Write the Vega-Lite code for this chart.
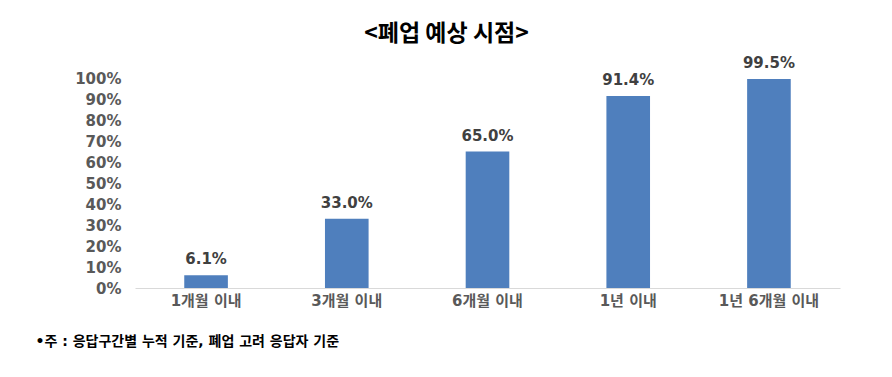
{
  "$schema": "https://vega.github.io/schema/vega-lite/v6.json",
  "width": 705,
  "height": 210,
  "autosize": "none",
  "padding": {"left": 135, "top": 78, "right": 52, "bottom": 89},
  "background": "white",
  "config": {"view": {"stroke": null}, "font": "Noto Sans CJK KR"},
  "title": {
    "text": "<폐업 예상 시점>",
    "anchor": "middle",
    "frame": "group",
    "dx": -41,
    "offset": 10,
    "fontSize": 23,
    "fontWeight": "bold",
    "color": "#000000",
    "font": "Noto Sans CJK KR"
  },
  "data": {
    "values": [
      {"period": "1개월 이내", "value": 0.061},
      {"period": "3개월 이내", "value": 0.33},
      {"period": "6개월 이내", "value": 0.65},
      {"period": "1년 이내", "value": 0.914},
      {"period": "1년 6개월 이내", "value": 0.995}
    ]
  },
  "encoding": {
    "x": {
      "field": "period",
      "type": "nominal",
      "sort": null,
      "scale": {"paddingInner": 0.69, "paddingOuter": 0.35},
      "axis": {
        "title": "•주 : 응답구간별 누적 기준, 폐업 고려 응답자 기준",
        "titleX": -100,
        "titleY": 53,
        "titleAlign": "left",
        "titleBaseline": "middle",
        "titleFontSize": 14,
        "titleFontWeight": "bold",
        "titleColor": "#000000",
        "titleFont": "DejaVu Sans, Noto Sans CJK KR",
        "labelAngle": 0,
        "labelFont": "DejaVu Sans, Noto Sans CJK KR",
        "labelFontSize": 15,
        "labelFontWeight": "bold",
        "labelColor": "#595959",
        "labelPadding": 5,
        "labelOverlap": false,
        "ticks": false,
        "domainColor": "#d9d9d9",
        "domainWidth": 1
      }
    },
    "y": {
      "field": "value",
      "type": "quantitative",
      "scale": {"domain": [0, 1]},
      "axis": {
        "title": null,
        "format": ".0%",
        "values": [0, 0.1, 0.2, 0.3, 0.4, 0.5, 0.6, 0.7, 0.8, 0.9, 1.0],
        "grid": false,
        "domain": false,
        "ticks": false,
        "labelOverlap": false,
        "labelFont": "DejaVu Sans",
        "labelFontSize": 15,
        "labelFontWeight": "bold",
        "labelColor": "#595959",
        "labelPadding": 14
      }
    }
  },
  "layer": [
    {"mark": {"type": "bar", "color": "#4f7fbd"}},
    {
      "mark": {"type": "text", "dy": -8, "font": "DejaVu Sans", "fontSize": 15, "fontWeight": "bold", "color": "#404040", "baseline": "bottom"},
      "encoding": {"text": {"field": "value", "type": "quantitative", "format": ".1%"}}
    }
  ]
}
